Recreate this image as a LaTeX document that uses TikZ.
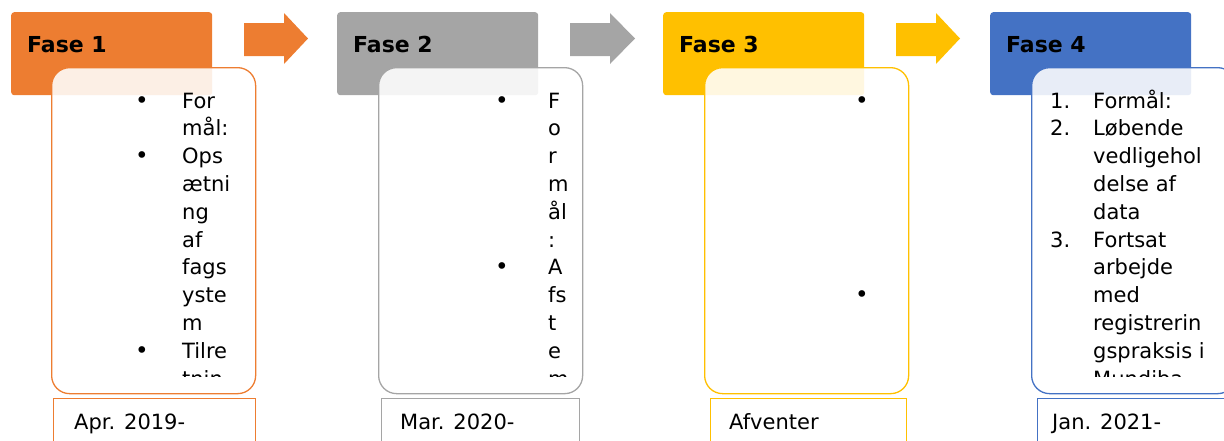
\documentclass[tikz,border=0pt]{standalone}
\usepackage{fontspec}
\setmainfont{DejaVu Sans}
\usetikzlibrary{positioning}
\definecolor{faseorange}{HTML}{ED7D31}
\definecolor{fasegray}{HTML}{A5A5A5}
\definecolor{faseyellow}{HTML}{FFC000}
\definecolor{faseblue}{HTML}{4472C4}

\begin{document}
\begin{tikzpicture}[x=1pt, y=-1pt]
            \tikzstyle{header}=[rounded corners=3pt, minimum width=201, minimum height=83, anchor=north west, inner sep=0]
            \tikzstyle{headtxt}=[anchor=base west, inner sep=0, font=\fontsize{22}{26}\selectfont\bfseries]
            \tikzstyle{cbox}=[rounded corners=18pt, fill=white, fill opacity=0.88, line width=1.3pt, minimum width=204, minimum height=326, anchor=north west, inner sep=0]
            \tikzstyle{dbox}=[line width=1.3pt, fill=white, minimum height=60, anchor=north west, inner sep=0]
            \tikzstyle{txt}=[anchor=base west, inner sep=0, font=\fontsize{21}{27.8}\selectfont]
            \tikzstyle{itm}=[anchor=north west, inner sep=0, align=left, font=\fontsize{21}{27.8}\selectfont]
            \tikzstyle{bul}=[anchor=base, inner sep=0, font=\fontsize{23}{27.8}\selectfont]
            \useasboundingbox (0,0) rectangle (1224,440);
            % Fase 1
            \node[header, fill=faseorange] (h1) at (11,12) {};
            \node[headtxt] (f1) at (27,52) {Fase 1};
            \node[cbox, draw=faseorange] (c1) at (51,67) {};
            \node[dbox, draw=faseorange, minimum width=202] (d1) at (53,398) {};
            \node[txt] (dt1) at (74,429) {Apr. 2019-};
            \begin{scope}
            \clip (51,67) rectangle (255,376);
            \node[bul] (b1a) at (142,108) {•};
            \node[itm] (t1a) at (182,88.5) {\strut For\\mål:};
            \node[bul] (b1b) at (142,163.6) {•};
            \node[itm] (t1b) at (182,144.1) {\strut Ops\\ætni\\ng\\af\\fags\\yste\\m};
            \node[bul] (b1c) at (142,358.2) {•};
            \node[itm] (t1c) at (182,338.7) {\strut Tilre\\tnin};
            \end{scope}
            \coordinate (a1) at (244,38.5);
            \fill[faseorange] (a1) ++(0,-15.5) -- ++(40,0) -- ++(0,-10) -- ++(24,25.5) -- ++(-24,25.5) -- ++(0,-8) -- ++(-40,0) -- cycle;
            % Fase 2
            \node[header, fill=fasegray] (h2) at (337,12) {};
            \node[headtxt] (f2) at (353,52) {Fase 2};
            \node[cbox, draw=fasegray] (c2) at (378,67) {};
            \node[dbox, draw=fasegray, minimum width=198] (d2) at (381,398) {};
            \node[txt] (dt2) at (400,429) {Mar. 2020-};
            \begin{scope}
            \clip (378,67) rectangle (581,376);
            \node[bul] (b2a) at (502,108) {•};
            \node[itm] (t2a) at (548,88.5) {\strut F\\o\\r\\m\\ål\\:};
            \node[bul] (b2b) at (502,274.8) {•};
            \node[itm] (t2b) at (548,255.3) {\strut A\\fs\\t\\e\\m};
            \end{scope}
            \coordinate (a2) at (570,38.5);
            \fill[fasegray] (a2) ++(0,-15.5) -- ++(40,0) -- ++(0,-10) -- ++(25,25.5) -- ++(-25,25.5) -- ++(0,-8) -- ++(-40,0) -- cycle;
            % Fase 3
            \node[header, fill=faseyellow] (h3) at (663,12) {};
            \node[headtxt] (f3) at (679,52) {Fase 3};
            \node[cbox, draw=faseyellow] (c3) at (704,67) {};
            \node[dbox, draw=faseyellow, minimum width=196] (d3) at (710,398) {};
            \node[txt] (dt3) at (729,429) {Afventer};
            \node[bul] (b3a) at (862,108) {•};
            \node[bul] (b3b) at (862,302.6) {•};
            \coordinate (a3) at (896,38.5);
            \fill[faseyellow] (a3) ++(0,-15.5) -- ++(40,0) -- ++(0,-10) -- ++(24,25.5) -- ++(-24,25.5) -- ++(0,-8) -- ++(-40,0) -- cycle;
            % Fase 4
            \node[header, fill=faseblue] (h4) at (990,12) {};
            \node[headtxt] (f4) at (1006,52) {Fase 4};
            \node[cbox, draw=faseblue] (c4) at (1031,67) {};
            \node[dbox, draw=faseblue, minimum width=200] (d4) at (1037,398) {};
            \node[txt] (dt4) at (1052,429) {Jan. 2021-};
            \begin{scope}
            \clip (1031,67) rectangle (1235,376);
            \node[txt] (n4a) at (1050,108) {1.};
            \node[itm] (t4a) at (1093,88.5) {\strut Formål:};
            \node[txt] (n4b) at (1050,135.8) {2.};
            \node[itm] (t4b) at (1093,116.3) {\strut Løbende\\vedligehol\\delse af\\data};
            \node[txt] (n4c) at (1050,247) {3.};
            \node[itm] (t4c) at (1093,227.5) {\strut Fortsat\\arbejde\\med\\registrerin\\gspraksis i\\Mundiba};
            \end{scope}
\end{tikzpicture}
\end{document}
